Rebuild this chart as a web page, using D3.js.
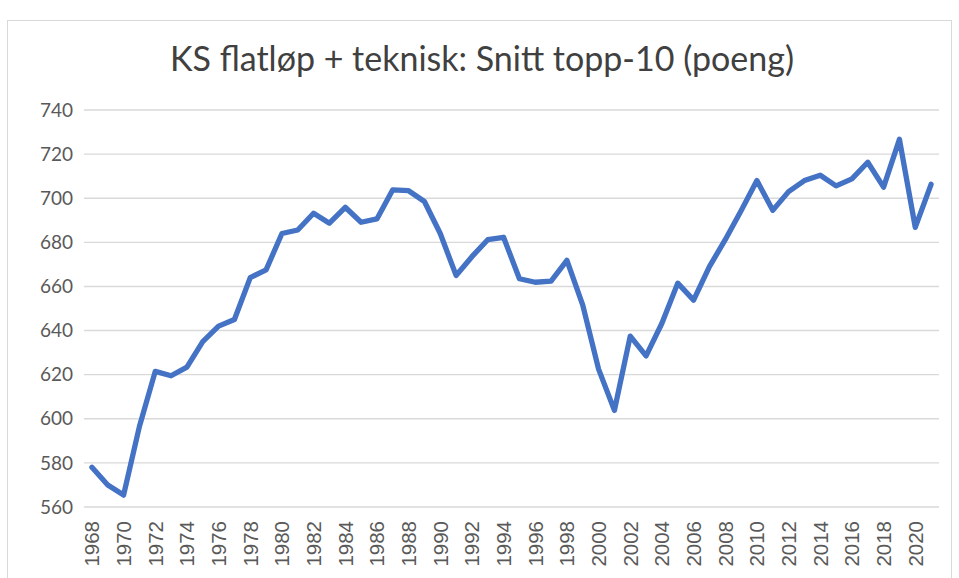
<!DOCTYPE html>
<meta charset="utf-8">
<style>
body { margin: 0; background: #fff; }
.grid line { stroke: #d9d9d9; stroke-width: 1.4; }
.ylab text { font: 19px Lato, sans-serif; fill: #595959; text-anchor: end; }
.xlab text { font: 20.5px "Liberation Sans", Arial, sans-serif; fill: #595959; text-anchor: end; }
.title { font: 34px Lato, sans-serif; fill: #404040; text-anchor: middle; }
</style>
<body>
<svg width="959" height="578"></svg>
<script src="https://d3js.org/d3.v7.min.js"></script>
<script>

var years = d3.range(1968, 2022);
var points = [578, 570, 565.4, 596.5, 621.5, 619.5, 623.4, 635, 642, 645,
              664, 667.5, 684, 685.6, 693.2, 688.7, 695.9, 689.1, 690.6, 703.8,
              703.4, 698.5, 684, 665, 673.5, 681.2, 682.3, 663.5, 661.9, 662.4,
              671.8, 651.5, 622.5, 603.8, 637.5, 628.5, 643.3, 661.5, 653.8, 669,
              681.2, 694.3, 708, 694.5, 703, 708, 710.4, 705.6, 708.8, 716.3,
              705, 726.7, 686.8, 706.3];
var yTicks = [560, 580, 600, 620, 640, 660, 680, 700, 720, 740];
var xTicks = years.filter(function(d) { return d % 2 === 0; });
var title = "KS flatløp + teknisk: Snitt topp-10 (poeng)";

var svg = d3.select("svg");

// chart frame
svg.append("rect")
    .attr("x", 7.5).attr("y", 20.5)
    .attr("width", 944).attr("height", 600)
    .attr("fill", "none")
    .attr("stroke", "#d9d9d9");

var x = d3.scaleBand()
    .domain(years)
    .range([84, 939]);

var y = d3.scaleLinear()
    .domain([560, 740])
    .range([507, 110]);

svg.append("g").attr("class", "grid")
  .selectAll("line")
  .data(yTicks)
  .enter().append("line")
    .attr("x1", 84).attr("x2", 939)
    .attr("y1", function(d) { return y(d); })
    .attr("y2", function(d) { return y(d); });

svg.append("g").attr("class", "ylab")
  .selectAll("text")
  .data(yTicks)
  .enter().append("text")
    .attr("x", 73)
    .attr("y", function(d) { return y(d); })
    .attr("dy", "0.35em")
    .text(function(d) { return d; });

svg.append("g").attr("class", "xlab")
  .selectAll("text")
  .data(xTicks)
  .enter().append("text")
    .attr("transform", function(d) {
      return "translate(" + (x(d) + x.bandwidth() / 2) + ",521) rotate(-90)";
    })
    .attr("dy", "0.36em")
    .text(function(d) { return d; });

var line = d3.line()
    .x(function(d, i) { return x(years[i]) + x.bandwidth() / 2; })
    .y(function(d) { return y(d); });

svg.append("path")
    .datum(points)
    .attr("d", line)
    .attr("fill", "none")
    .attr("stroke", "#4472c4")
    .attr("stroke-width", 5.3)
    .attr("stroke-linejoin", "round")
    .attr("stroke-linecap", "round");

svg.append("text")
    .attr("class", "title")
    .attr("x", 482)
    .attr("y", 71)
    .text(title);

</script>
</body>
